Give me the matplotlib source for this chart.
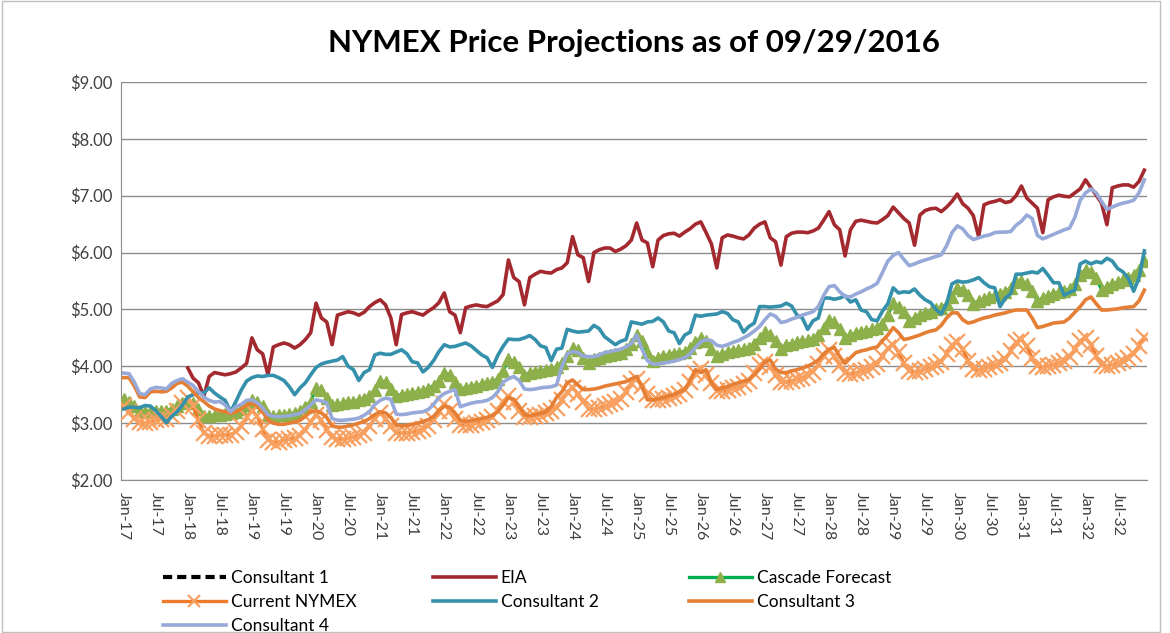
import numpy as np
import pandas as pd
import matplotlib
matplotlib.use("Agg")
import matplotlib.pyplot as plt
from matplotlib.patches import Rectangle

plt.rcParams['font.family'] = ['Lato', 'DejaVu Sans']

# monthly categories Jan-17 .. Dec-32
months = pd.date_range("2017-01-01", "2032-12-01", freq="MS").strftime("%b-%y").tolist()
tick_every = 6

NA = None
consultant1 = [NA] * len(months)   # no values shown in the chart

eia = [NA] * 12 + [
    3.97, 3.79, 3.71, 3.47, 3.82, 3.89, 3.87, 3.85, 3.87, 3.90, 3.97, 4.05,   # 2018
    4.50, 4.29, 4.22, 3.85, 4.34, 4.38, 4.41, 4.38, 4.32, 4.38, 4.47, 4.59,   # 2019
    5.11, 4.85, 4.78, 4.38, 4.90, 4.93, 4.96, 4.94, 4.90, 4.95, 5.05, 5.12,   # 2020
    5.17, 5.08, 4.85, 4.38, 4.91, 4.94, 4.96, 4.93, 4.90, 4.97, 5.03, 5.12,   # 2021
    5.29, 4.96, 4.90, 4.59, 5.03, 5.06, 5.08, 5.06, 5.05, 5.10, 5.15, 5.26,   # 2022
    5.87, 5.56, 5.49, 5.08, 5.56, 5.62, 5.67, 5.65, 5.64, 5.70, 5.73, 5.82,   # 2023
    6.28, 5.96, 5.91, 5.49, 6.00, 6.05, 6.08, 6.08, 6.02, 6.06, 6.12, 6.22,   # 2024
    6.52, 6.22, 6.17, 5.75, 6.22, 6.30, 6.33, 6.34, 6.29, 6.36, 6.42, 6.50,   # 2025
    6.54, 6.35, 6.15, 5.73, 6.26, 6.31, 6.29, 6.26, 6.24, 6.31, 6.43, 6.50,   # 2026
    6.54, 6.26, 6.19, 5.78, 6.28, 6.34, 6.36, 6.36, 6.35, 6.38, 6.43, 6.57,   # 2027
    6.72, 6.49, 6.40, 5.94, 6.40, 6.55, 6.57, 6.55, 6.53, 6.52, 6.58, 6.65,   # 2028
    6.80, 6.70, 6.60, 6.52, 6.13, 6.66, 6.74, 6.77, 6.78, 6.72, 6.80, 6.90,   # 2029
    7.03, 6.86, 6.78, 6.65, 6.28, 6.84, 6.88, 6.90, 6.93, 6.88, 6.90, 7.00,   # 2030
    7.17, 6.96, 6.87, 6.78, 6.35, 6.93, 6.98, 7.01, 6.99, 6.98, 7.05, 7.12,   # 2031
    7.28, 7.14, 7.01, 6.87, 6.49, 7.14, 7.17, 7.19, 7.19, 7.15, 7.25, 7.45,   # 2032
]

cascade = [
    3.42, 3.38, 3.30, 3.22, 3.20, 3.20, 3.22, 3.22, 3.22, 3.25, 3.30, 3.35,   # 2017
    3.38, 3.35, 3.25, 3.12, 3.12, 3.14, 3.15, 3.16, 3.18, 3.20, 3.25, 3.32,   # 2018
    3.40, 3.38, 3.30, 3.15, 3.13, 3.14, 3.15, 3.16, 3.18, 3.22, 3.28, 3.38,   # 2019
    3.62, 3.58, 3.45, 3.32, 3.33, 3.35, 3.37, 3.38, 3.40, 3.42, 3.48, 3.58,   # 2020
    3.75, 3.72, 3.60, 3.48, 3.50, 3.52, 3.53, 3.55, 3.57, 3.60, 3.66, 3.75,   # 2021
    3.88, 3.85, 3.72, 3.60, 3.62, 3.64, 3.66, 3.68, 3.70, 3.72, 3.78, 3.92,   # 2022
    4.12, 4.08, 3.98, 3.85, 3.88, 3.90, 3.92, 3.94, 3.96, 3.98, 4.05, 4.18,   # 2023
    4.32, 4.28, 4.15, 4.05, 4.12, 4.15, 4.18, 4.20, 4.22, 4.24, 4.30, 4.40,   # 2024
    4.55, 4.45, 4.25, 4.10, 4.15, 4.18, 4.20, 4.22, 4.24, 4.26, 4.32, 4.42,   # 2025
    4.50, 4.45, 4.30, 4.18, 4.22, 4.25, 4.27, 4.28, 4.30, 4.32, 4.40, 4.50,   # 2026
    4.60, 4.55, 4.45, 4.30, 4.38, 4.40, 4.42, 4.44, 4.46, 4.48, 4.55, 4.68,   # 2027
    4.82, 4.78, 4.65, 4.50, 4.55, 4.58, 4.60, 4.62, 4.65, 4.68, 4.75, 4.90,   # 2028
    5.12, 5.05, 4.95, 4.80, 4.85, 4.90, 4.93, 4.96, 5.00, 5.03, 5.10, 5.22,   # 2029
    5.38, 5.35, 5.25, 5.10, 5.15, 5.18, 5.22, 5.25, 5.28, 5.30, 5.38, 5.48,   # 2030
    5.50, 5.45, 5.32, 5.15, 5.20, 5.24, 5.28, 5.30, 5.33, 5.36, 5.45, 5.60,   # 2031
    5.70, 5.66, 5.55, 5.35, 5.40, 5.44, 5.48, 5.52, 5.56, 5.60, 5.70, 5.85,   # 2032
]

nymex = [
    3.30, 3.20, 3.08, 3.02, 3.00, 3.02, 3.05, 3.07, 3.08, 3.12, 3.22, 3.35,   # 2017
    3.45, 3.30, 3.05, 2.82, 2.78, 2.78, 2.80, 2.80, 2.80, 2.84, 2.95, 3.10,   # 2018
    3.22, 3.12, 2.90, 2.70, 2.66, 2.67, 2.70, 2.72, 2.74, 2.78, 2.88, 3.02,   # 2019
    3.15, 3.05, 2.88, 2.75, 2.72, 2.72, 2.74, 2.76, 2.79, 2.83, 2.95, 3.08,   # 2020
    3.18, 3.08, 2.95, 2.83, 2.82, 2.83, 2.85, 2.87, 2.90, 2.95, 3.06, 3.22,   # 2021
    3.33, 3.22, 3.08, 2.97, 2.96, 2.97, 3.00, 3.02, 3.05, 3.10, 3.22, 3.38,   # 2022
    3.48, 3.38, 3.22, 3.10, 3.10, 3.12, 3.15, 3.18, 3.22, 3.27, 3.40, 3.55,   # 2023
    3.62, 3.52, 3.38, 3.25, 3.25, 3.27, 3.30, 3.33, 3.37, 3.42, 3.55, 3.70,   # 2024
    3.78, 3.66, 3.52, 3.40, 3.40, 3.42, 3.45, 3.48, 3.52, 3.58, 3.72, 3.88,   # 2025
    3.95, 3.85, 3.70, 3.56, 3.56, 3.58, 3.61, 3.64, 3.68, 3.74, 3.88, 4.02,   # 2026
    4.08, 3.98, 3.85, 3.72, 3.72, 3.74, 3.77, 3.80, 3.84, 3.90, 4.04, 4.18,   # 2027
    4.28, 4.18, 4.02, 3.88, 3.86, 3.88, 3.91, 3.94, 3.98, 4.04, 4.18, 4.32,   # 2028
    4.38, 4.25, 4.05, 3.92, 3.90, 3.92, 3.95, 3.98, 4.02, 4.08, 4.22, 4.38,   # 2029
    4.42, 4.30, 4.10, 3.95, 3.94, 3.96, 3.99, 4.02, 4.06, 4.12, 4.27, 4.42,   # 2030
    4.47, 4.35, 4.15, 4.00, 3.98, 4.00, 4.03, 4.06, 4.10, 4.16, 4.30, 4.45,   # 2031
    4.50, 4.38, 4.18, 4.02, 4.00, 4.02, 4.06, 4.10, 4.15, 4.22, 4.36, 4.52,   # 2032
]

consultant2 = [
    3.25, 3.28, 3.28, 3.27, 3.31, 3.30, 3.22, 3.12, 3.01, 3.12, 3.20, 3.32,   # 2017
    3.46, 3.50, 3.53, 3.53, 3.62, 3.53, 3.46, 3.40, 3.20, 3.38, 3.58, 3.74,   # 2018
    3.80, 3.83, 3.82, 3.84, 3.84, 3.80, 3.75, 3.64, 3.50, 3.62, 3.71, 3.85,   # 2019
    3.98, 4.04, 4.07, 4.09, 4.11, 4.17, 4.00, 3.94, 3.75, 3.89, 3.94, 4.20,   # 2020
    4.23, 4.21, 4.21, 4.25, 4.29, 4.22, 4.08, 4.06, 3.90, 3.98, 4.10, 4.26,   # 2021
    4.38, 4.34, 4.35, 4.38, 4.41, 4.36, 4.28, 4.20, 4.15, 3.98, 4.19, 4.35,   # 2022
    4.48, 4.47, 4.47, 4.50, 4.54, 4.47, 4.36, 4.33, 4.10, 4.30, 4.32, 4.65,   # 2023
    4.62, 4.60, 4.61, 4.62, 4.72, 4.66, 4.52, 4.45, 4.38, 4.44, 4.47, 4.78,   # 2024
    4.76, 4.74, 4.78, 4.79, 4.85, 4.78, 4.62, 4.59, 4.40, 4.55, 4.60, 4.90,   # 2025
    4.88, 4.90, 4.91, 4.92, 4.96, 4.93, 4.82, 4.78, 4.60, 4.70, 4.76, 5.05,   # 2026
    5.05, 5.04, 5.05, 5.06, 5.11, 5.06, 4.90, 4.85, 4.65, 4.80, 4.85, 5.20,   # 2027
    5.20, 5.18, 5.20, 5.24, 5.13, 5.17, 4.99, 4.96, 4.82, 4.80, 4.97, 5.10,   # 2028
    5.38, 5.29, 5.31, 5.30, 5.36, 5.25, 5.17, 5.12, 5.00, 4.92, 5.10, 5.45,   # 2029
    5.50, 5.48, 5.49, 5.52, 5.56, 5.47, 5.40, 5.38, 5.05, 5.20, 5.28, 5.62,   # 2030
    5.62, 5.64, 5.66, 5.64, 5.72, 5.60, 5.47, 5.47, 5.25, 5.30, 5.34, 5.80,   # 2031
    5.85, 5.80, 5.84, 5.82, 5.90, 5.85, 5.72, 5.66, 5.55, 5.32, 5.55, 6.03,   # 2032
]

consultant3 = [
    3.80, 3.80, 3.65, 3.46, 3.45, 3.55, 3.56, 3.55, 3.56, 3.62, 3.70, 3.72,   # 2017
    3.65, 3.55, 3.45, 3.38, 3.30, 3.25, 3.22, 3.20, 3.17, 3.20, 3.25, 3.32,   # 2018
    3.35, 3.30, 3.20, 3.05, 3.00, 2.98, 2.98, 3.00, 3.02, 3.05, 3.12, 3.20,   # 2019
    3.22, 3.18, 3.10, 2.95, 2.93, 2.93, 2.95, 2.97, 3.00, 3.03, 3.08, 3.15,   # 2020
    3.20, 3.18, 3.10, 2.97, 2.95, 2.96, 2.98, 3.00, 3.03, 3.06, 3.12, 3.22,   # 2021
    3.30, 3.28, 3.18, 3.05, 3.03, 3.04, 3.06, 3.08, 3.10, 3.14, 3.20, 3.32,   # 2022
    3.45, 3.42, 3.30, 3.15, 3.13, 3.15, 3.17, 3.20, 3.29, 3.45, 3.55, 3.71,   # 2023
    3.76, 3.67, 3.59, 3.59, 3.60, 3.62, 3.65, 3.67, 3.69, 3.71, 3.73, 3.78,   # 2024
    3.82, 3.64, 3.41, 3.41, 3.43, 3.45, 3.48, 3.50, 3.55, 3.59, 3.75, 3.94,   # 2025
    3.89, 3.94, 3.71, 3.59, 3.62, 3.64, 3.68, 3.71, 3.74, 3.76, 3.85, 3.95,   # 2026
    4.08, 4.11, 3.95, 3.89, 3.89, 3.92, 3.94, 3.97, 4.00, 4.05, 4.11, 4.22,   # 2027
    4.30, 4.33, 4.17, 4.05, 4.15, 4.24, 4.27, 4.29, 4.32, 4.34, 4.45, 4.55,   # 2028
    4.68, 4.59, 4.47, 4.49, 4.52, 4.55, 4.59, 4.62, 4.64, 4.72, 4.85, 4.94,   # 2029
    4.94, 4.82, 4.76, 4.78, 4.82, 4.85, 4.87, 4.90, 4.92, 4.94, 4.97, 4.99,   # 2030
    4.99, 4.99, 4.85, 4.68, 4.70, 4.73, 4.76, 4.77, 4.78, 4.85, 4.95, 5.05,   # 2031
    5.17, 5.22, 5.10, 4.99, 4.99, 5.00, 5.01, 5.03, 5.04, 5.05, 5.15, 5.34,   # 2032
]

consultant4 = [
    3.88, 3.87, 3.72, 3.52, 3.50, 3.60, 3.63, 3.62, 3.60, 3.70, 3.75, 3.78,   # 2017
    3.72, 3.66, 3.55, 3.46, 3.40, 3.37, 3.38, 3.32, 3.20, 3.29, 3.33, 3.40,   # 2018
    3.41, 3.36, 3.27, 3.15, 3.12, 3.11, 3.12, 3.13, 3.15, 3.17, 3.24, 3.32,   # 2019
    3.41, 3.39, 3.36, 3.08, 3.05, 3.05, 3.06, 3.07, 3.09, 3.14, 3.20, 3.33,   # 2020
    3.40, 3.44, 3.42, 3.16, 3.15, 3.16, 3.18, 3.19, 3.20, 3.24, 3.33, 3.45,   # 2021
    3.52, 3.56, 3.59, 3.29, 3.32, 3.35, 3.37, 3.38, 3.40, 3.45, 3.55, 3.72,   # 2022
    3.78, 3.82, 3.75, 3.60, 3.59, 3.60, 3.62, 3.63, 3.64, 3.67, 4.00, 4.22,   # 2023
    4.26, 4.24, 4.18, 4.17, 4.17, 4.20, 4.24, 4.26, 4.28, 4.30, 4.34, 4.40,   # 2024
    4.55, 4.30, 4.10, 4.04, 4.04, 4.06, 4.07, 4.09, 4.12, 4.15, 4.22, 4.33,   # 2025
    4.43, 4.47, 4.45, 4.37, 4.35, 4.38, 4.42, 4.45, 4.50, 4.55, 4.62, 4.70,   # 2026
    4.82, 4.92, 4.88, 4.77, 4.79, 4.83, 4.86, 4.90, 4.93, 4.96, 5.05, 5.25,   # 2027
    5.40, 5.42, 5.31, 5.23, 5.22, 5.27, 5.31, 5.36, 5.40, 5.46, 5.65, 5.85,   # 2028
    5.95, 6.00, 5.88, 5.77, 5.80, 5.84, 5.87, 5.90, 5.93, 5.96, 6.12, 6.35,   # 2029
    6.47, 6.42, 6.30, 6.23, 6.26, 6.29, 6.31, 6.35, 6.36, 6.36, 6.37, 6.48,   # 2030
    6.55, 6.66, 6.60, 6.30, 6.24, 6.28, 6.32, 6.36, 6.40, 6.43, 6.62, 6.92,   # 2031
    7.05, 7.12, 7.05, 6.90, 6.76, 6.80, 6.84, 6.87, 6.89, 6.92, 7.05, 7.28,   # 2032
]

y_ticks = [2, 3, 4, 5, 6, 7, 8, 9]
title = "NYMEX Price Projections as of 09/29/2016"

C_EIA = "#A3292F"
C_CASC_LINE = "#00B050"
C_CASC_MARK = "#8DB04A"
C_NYMEX_LINE = "#EE7A2C"
C_NYMEX_MARK = "#F8A060"
C_CON2 = "#3590AC"
C_CON3 = "#E57F35"
C_CON4 = "#96A9D8"
GRID = "#8C8C8C"


def arr(vals):
    return np.array([np.nan if v is None else v for v in vals], dtype=float)


fig = plt.figure(figsize=(11.7, 6.33), dpi=100)
ax = fig.add_axes([121 / 1170, 1 - 480 / 633, (1147 - 121) / 1170, (480 - 82) / 633])
x = np.arange(len(months))

h_c1, = ax.plot(x, arr(consultant1), color="black", lw=3, ls=(0, (2.2, 1.2)),
                label="Consultant 1")
h_eia, = ax.plot(x, arr(eia), color=C_EIA, lw=2.6, label="EIA", zorder=3)
h_cas, = ax.plot(x, arr(cascade), color=C_CASC_LINE, lw=2.4, marker="^", ms=9,
                 mfc=C_CASC_MARK, mec=C_CASC_MARK, label="Cascade Forecast", zorder=3)
h_nym, = ax.plot(x, arr(nymex), color=C_NYMEX_LINE, lw=2.4, marker="x", ms=11,
                 mew=1.6, mec=C_NYMEX_MARK, label="Current NYMEX", zorder=3)
h_c2, = ax.plot(x, arr(consultant2), color=C_CON2, lw=2.6, label="Consultant 2", zorder=4)
h_c3, = ax.plot(x, arr(consultant3), color=C_CON3, lw=2.6, label="Consultant 3", zorder=4)
h_c4, = ax.plot(x, arr(consultant4), color=C_CON4, lw=2.6, label="Consultant 4", zorder=4)

ax.set_xlim(-0.5, len(months) - 0.5)
ax.set_ylim(2, 9)
ax.set_yticks(y_ticks)
ax.set_yticklabels([f"${v:.2f}" for v in y_ticks], fontsize=12)
ax.set_xticks(x[::tick_every])
ax.set_xticklabels(months[::tick_every], rotation=270, fontsize=11.5, va="top", ha="center")
ax.tick_params(axis="both", length=0, pad=6, colors="#404040")
ax.tick_params(axis="x", pad=9)
ax.grid(axis="y", color=GRID, lw=1)
ax.set_axisbelow(True)
for s in ("top", "right"):
    ax.spines[s].set_visible(False)
ax.spines["left"].set_color(GRID)
ax.spines["bottom"].set_color(GRID)

fig.text((121 + 1147) / 2 / 1170, 1 - 43 / 633, title, ha="center", va="center",
         fontsize=22.5, fontweight="bold", color="black")

# legend: three fixed columns, like the spreadsheet legend grid
legend_cols = [(163, [h_c1, h_nym, h_c4]), (433, [h_eia, h_c2]), (689, [h_cas, h_c3])]
for left, hs in legend_cols:
    fig.legend(handles=hs, labels=[h.get_label() for h in hs], ncol=1,
               loc="upper left", bbox_to_anchor=(left / 1170, 1 - 570 / 633),
               frameon=False, fontsize=12.5, handlelength=3.6, borderpad=0,
               labelspacing=0.45, handletextpad=0.3, borderaxespad=0, markerscale=0.8)

fig.patches.append(Rectangle((0.002, 0.002), 1158 / 1170, 0.996, transform=fig.transFigure,
                             fill=False, edgecolor="#BFBFBF", lw=1))

fig.savefig("out.png", dpi=100)
